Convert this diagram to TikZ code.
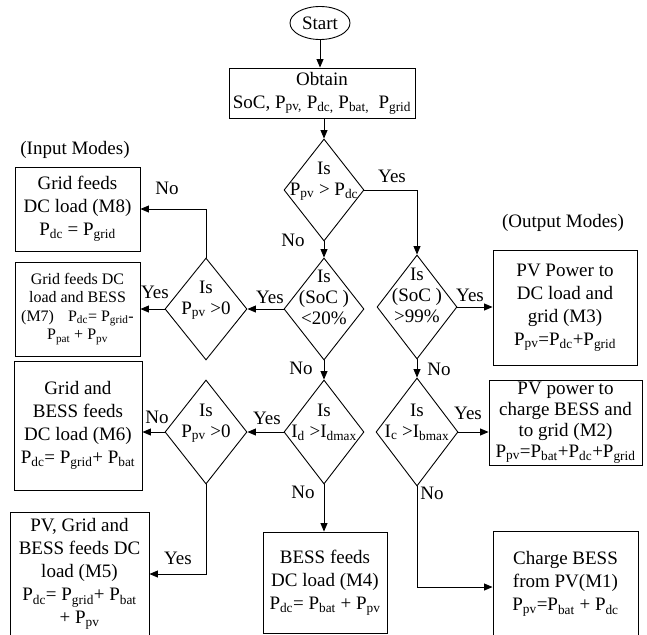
\documentclass[tikz,border=0pt]{standalone}
\usepackage{fontspec}
\setmainfont{Liberation Serif}
\usetikzlibrary{shapes.geometric,arrows.meta}
\newcommand\pw[2]{#1\textsubscript{#2}}
\newcommand\dtxt[1]{\makebox[0pt]{\smash{\raisebox{5pt}{\begin{tabular}{@{}c@{}}#1\end{tabular}}}}}
\begin{document}
\begin{tikzpicture}[x=1pt,y=-1pt,
  every node/.style={font=\fontsize{19}{23}\selectfont},
  box/.style={draw, rectangle, line width=0.9pt, align=center, inner sep=0pt},
  dec/.style={draw, diamond, line width=0.9pt, inner sep=0pt, font=\fontsize{19}{21}\selectfont},
  arr/.style={line width=0.9pt, -{Triangle[length=8.5pt,width=7pt]}}]
\useasboundingbox (0,0) rectangle (647,634);
\clip (0,0) rectangle (647,634);

% start / obtain
\node[draw, ellipse, line width=0.9pt, minimum width=60pt, minimum height=33pt, inner sep=0pt] (start) at (320,23) {Start};
\node[box, minimum width=186pt, minimum height=50pt] (obt) at (322,93)
  {Obtain\\SoC, \pw{P}{pv,} \pw{P}{dc,} \pw{P}{bat,}\ \ \pw{P}{grid}};

% decisions
\node[dec, minimum width=80pt, minimum height=102pt] (d1) at (324,190) {\dtxt{Is\\\pw{P}{pv} > \pw{P}{dc}}};
\node[dec, minimum width=80pt, minimum height=102pt] (d2) at (324,309) {\dtxt{Is\\(SoC )\\<20\%}};
\node[dec, minimum width=80pt, minimum height=104pt] (d3) at (417,307) {\dtxt{Is\\(SoC )\\>99\%}};
\node[dec, minimum width=82pt, minimum height=108pt] (d4) at (417,432) {\dtxt{Is\\\pw{I}{c} >\pw{I}{bmax}}};
\node[dec, minimum width=80pt, minimum height=104pt] (d5) at (324,432) {\dtxt{Is\\\pw{I}{d} >\pw{I}{dmax}}};
\node[dec, minimum width=82pt, minimum height=104pt] (d6) at (206,432) {\dtxt{Is\\\pw{P}{pv} >0}};
\node[dec, minimum width=82pt, minimum height=102pt] (d7) at (206,309) {\dtxt{Is\\\pw{P}{pv} >0}};

% mode boxes
\node[box, minimum width=125pt, minimum height=84pt] (m8) at (77.5,209)
  {Grid feeds\\DC load (M8)\\\pw{P}{dc} = \pw{P}{grid}};
\node[box, minimum width=125pt, minimum height=94pt, font=\fontsize{16}{18.5}\selectfont] (m7) at (77.5,309)
  {Grid feeds DC\\load and BESS\\(M7)\hspace{14pt}\pw{P}{dc}= \pw{P}{grid}-\\\pw{P}{pat} + \pw{P}{pv}};
\node[box, minimum width=128pt, minimum height=129pt] (m6) at (78,425.5)
  {Grid and\\BESS feeds\\DC load (M6)\\\pw{P}{dc}= \pw{P}{grid}+ \pw{P}{bat}};
\node[box, minimum width=139pt, minimum height=124pt] (m5) at (79.5,574)
  {PV, Grid and\\BESS feeds DC\\load (M5)\\\pw{P}{dc}= \pw{P}{grid}+ \pw{P}{bat}\\+ \pw{P}{pv}};
\node[box, minimum width=124pt, minimum height=101pt] (m4) at (325,582.5)
  {BESS feeds\\DC load (M4)\\\pw{P}{dc}= \pw{P}{bat} + \pw{P}{pv}};
\node[box, minimum width=145pt, minimum height=106pt] (m1) at (565.5,584)
  {Charge BESS\\from PV(M1)\\\pw{P}{pv}=\pw{P}{bat} + \pw{P}{dc}};
\node[box, minimum width=153pt, minimum height=85pt, font=\fontsize{19}{21}\selectfont] (m2) at (565.5,422.5)
  {PV power to\\charge BESS and\\to grid (M2)\\\pw{P}{pv}=\pw{P}{bat}+\pw{P}{dc}+\pw{P}{grid}};
\node[box, minimum width=144pt, minimum height=115pt] (m3) at (565,307.5)
  {PV Power to\\DC load and\\grid (M3)\\\pw{P}{pv}=\pw{P}{dc}+\pw{P}{grid}};

% headings
\node (inm) at (75,150) {(Input Modes)};
\node (outm) at (563,223) {(Output Modes)};

% connectors
\coordinate (m1in) at ([yshift=-3pt]m1.west);
\draw[arr] (start.south) -- (start.south |- obt.north);
\draw[arr] (d1.north |- obt.south) -- (d1.north);
\draw[arr] (d1.south) -- (d2.north);
\draw[arr] (d1.east) -| (d3.north);
\draw[arr] (d2.west) -- (d7.east);
\draw[arr] (d2.south) -- (d5.north);
\draw[arr] (d3.east) -- (d3.east -| m3.west);
\draw[arr] (d3.south) -- (d4.north);
\draw[arr] (d4.east) -- (d4.east -| m2.west);
\draw[arr] (d4.south) |- (m1in);
\draw[arr] (d5.south) -- (d5.south |- m4.north);
\draw[arr] (d5.west) -- (d6.east);
\draw[arr] (d6.west) -- (d6.west -| m6.east);
\draw[arr] (d6.south) |- (m5.east);
\draw[arr] (d7.west) -- (d7.west -| m7.east);
\draw[arr] (d7.north) |- (m8.east);

% labels
\node (l1) at (392,176) {Yes};
\node (l2) at (293,240) {No};
\node (l3) at (270,297) {Yes};
\node (l4) at (155,292) {Yes};
\node (l5) at (167,188) {No};
\node (l6) at (470,295) {Yes};
\node (l7) at (439,369) {No};
\node (l8) at (468,413) {Yes};
\node (l9) at (432,493) {No};
\node (l10) at (301,368) {No};
\node (l11) at (267,418) {Yes};
\node (l12) at (157,417) {No};
\node (l13) at (178,558) {Yes};
\node (l14) at (303,492) {No};
\end{tikzpicture}
\end{document}
